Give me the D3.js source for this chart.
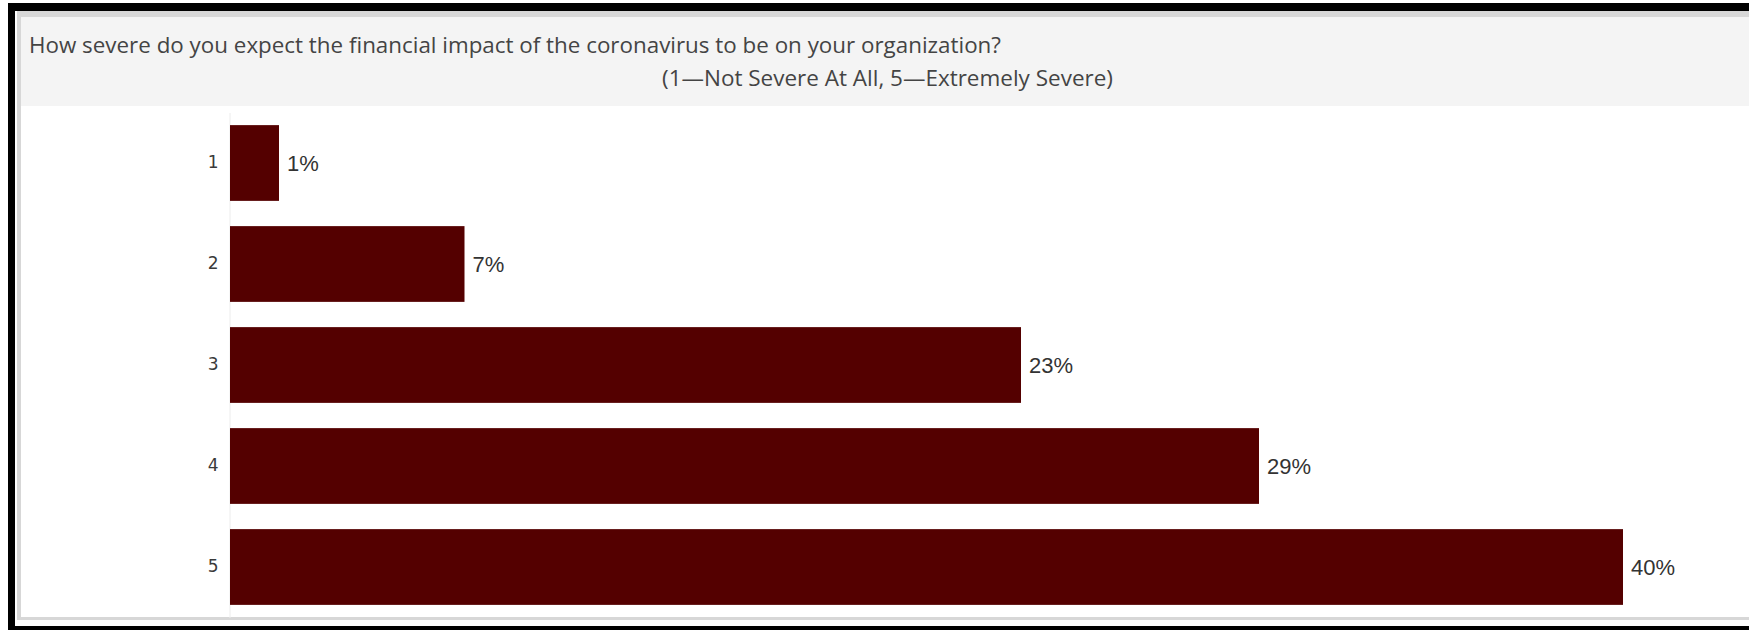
<!DOCTYPE html>
<html>
<head>
<meta charset="utf-8">
<script src="https://cdn.jsdelivr.net/npm/d3@7/dist/d3.min.js"></script>
<style>
  body { margin: 0; background: #fff; }
  svg { display: block; }
</style>
</head>
<body>
<svg id="chart" width="1749" height="630"></svg>
<script>

var categories = ['1', '2', '3', '4', '5'];
var shares = [1.4, 6.7, 22.6, 29.4, 39.8];      // percent of respondents
var shareLabels = ['1%', '7%', '23%', '29%', '40%'];
var titleLine = 'How severe do you expect the financial impact of the coronavirus to be on your organization?';
var subtitleLine = '(1\u2014Not Severe At All, 5\u2014Extremely Severe)';

var W = 1749, H = 630;
var svg = d3.select('#chart');

// Frame: black outer border, light gray inner border, gray header band
svg.append('rect').attr('x', 8).attr('y', 3).attr('width', W - 8).attr('height', H - 3).attr('fill', '#000');
svg.append('rect').attr('x', 15).attr('y', 11).attr('width', W - 15).attr('height', 615).attr('fill', '#fff');
svg.append('rect').attr('x', 17).attr('y', 11).attr('width', W - 17).attr('height', 609).attr('fill', '#d7d7d7');
svg.append('rect').attr('x', 21).attr('y', 17).attr('width', W - 21).attr('height', 89).attr('fill', '#f4f4f4');
svg.append('rect').attr('x', 21).attr('y', 106).attr('width', W - 21).attr('height', 511).attr('fill', '#fff');

// Title
var title = svg.append('g').attr('class', 'title')
  .style('font-family', '"Open Sans", "Noto Sans", sans-serif')
  .style('font-size', '21px')
  .style('font-variant-ligatures', 'none')
  .attr('fill', '#444');

title.append('text')
  .attr('x', 29).attr('y', 53)
  .attr('textLength', 972).attr('lengthAdjust', 'spacingAndGlyphs')
  .text(titleLine);

title.append('text')
  .attr('x', 662).attr('y', 86)
  .attr('textLength', 451).attr('lengthAdjust', 'spacingAndGlyphs')
  .text(subtitleLine);

// Scales
var x = d3.scaleLinear().domain([0, 40]).range([230, 1630]);
var y = d3.scaleBand().domain(categories).range([112.5, 617.5])
  .paddingInner(0.25).paddingOuter(0.125);

var data = categories.map(function(c, i) {
  return { cat: c, value: shares[i], label: shareLabels[i] };
});

// Axis
var axis = svg.append('g')
  .attr('transform', 'translate(229.5,0)')
  .call(d3.axisLeft(y).tickSize(0).tickPadding(11));

axis.select('.domain').attr('stroke', '#ececec').attr('stroke-width', 1);
axis.selectAll('text')
  .style('font-family', '"DejaVu Sans", Verdana, sans-serif')
  .style('font-size', '17px')
  .attr('fill', '#3a3a3a');

// Bars
svg.append('g').selectAll('rect')
  .data(data)
  .enter().append('rect')
    .attr('x', x(0))
    .attr('y', function(d) { return y(d.cat); })
    .attr('width', function(d) { return x(d.value) - x(0); })
    .attr('height', y.bandwidth())
    .attr('fill', '#540000');

// Value labels
svg.append('g').selectAll('text')
  .data(data)
  .enter().append('text')
    .attr('x', function(d) { return x(d.value) + 8; })
    .attr('y', function(d) { return y(d.cat) + y.bandwidth() / 2; })
    .attr('dy', '0.36em')
    .style('font-family', '"Liberation Sans", Arial, sans-serif')
    .style('font-size', '22px')
    .attr('fill', '#333')
    .text(function(d) { return d.label; });

</script>
</body>
</html>
